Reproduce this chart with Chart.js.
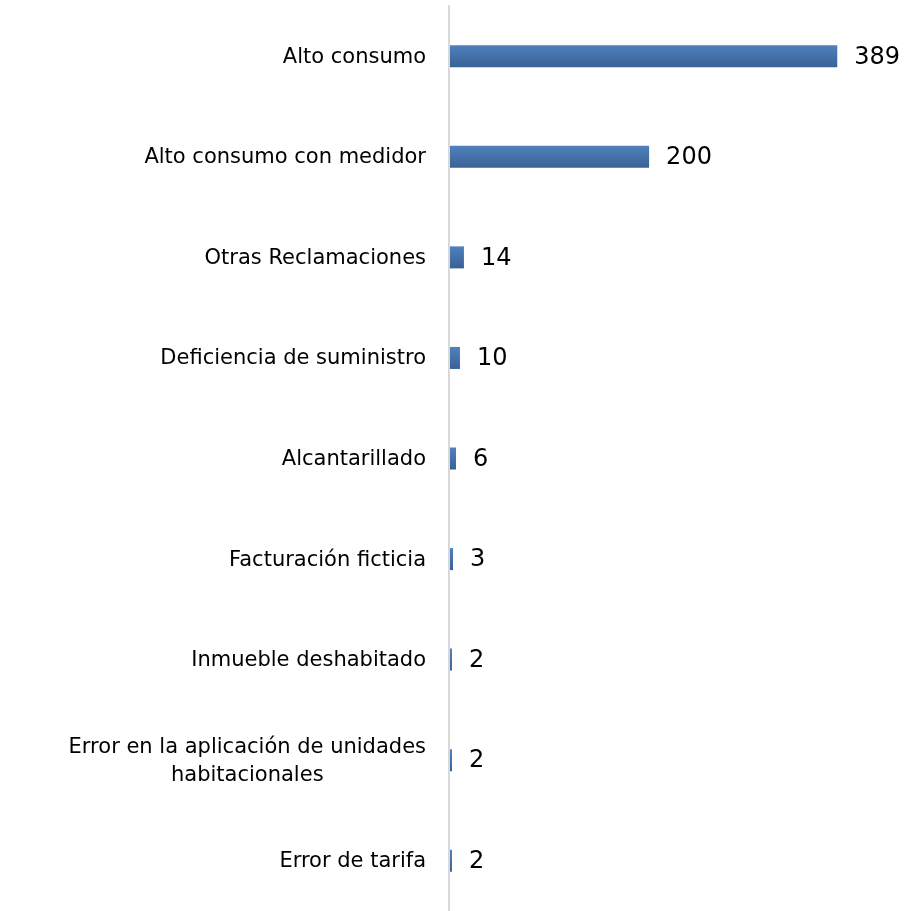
<!DOCTYPE html>
<html>
<head>
<meta charset="utf-8">
<script src="https://cdn.jsdelivr.net/npm/chart.js@4"></script>
<style>
html,body{margin:0;padding:0;background:#fff;}
#wrap{width:920px;height:911px;position:relative;}
</style>
</head>
<body>
<div id="wrap"><canvas id="c" width="920" height="911"></canvas></div>
<script>
const categories = [
  "Alto consumo",
  "Alto consumo con medidor",
  "Otras Reclamaciones",
  "Deficiencia de suministro",
  "Alcantarillado",
  "Facturación ficticia",
  "Inmueble deshabitado",
  ["Error en la aplicación de unidades", "habitacionales"],
  "Error de tarifa"
];
const values = [389, 200, 14, 10, 6, 3, 2, 2, 2];

const LABEL_FONT = '21px "DejaVu Sans"';
const VALUE_FONT = '24px "DejaVu Sans"';

const labelPlugin = {
  id: 'labels',
  afterDraw(chart) {
    const ctx = chart.ctx;
    const y = chart.scales.y;
    const x = chart.scales.x;
    ctx.save();
    ctx.fillStyle = '#000';
    ctx.textBaseline = 'middle';
    ctx.font = LABEL_FONT;
    categories.forEach((lab, i) => {
      const cy = y.getPixelForValue(i);
      const lines = Array.isArray(lab) ? lab : [lab];
      const maxW = Math.max(...lines.map(l => ctx.measureText(l).width));
      const right = x.left - 24;
      const lh = 28;
      lines.forEach((l, j) => {
        const ly = cy + 1 + (j - (lines.length - 1) / 2) * lh;
        ctx.textAlign = 'center';
        ctx.fillText(l, right - maxW / 2, ly);
      });
    });
    ctx.font = VALUE_FONT;
    ctx.textAlign = 'left';
    const meta = chart.getDatasetMeta(0);
    meta.data.forEach((bar, i) => {
      ctx.fillText(String(values[i]), bar.x + 17, bar.y + 1);
    });
    ctx.restore();
  }
};

const axisLine = {
  id: 'axisLine',
  beforeDatasetsDraw(chart) {
    const ctx = chart.ctx;
    const xl = chart.scales.x.left;
    ctx.save();
    ctx.strokeStyle = '#d9d9d9';
    ctx.lineWidth = 2;
    ctx.beginPath();
    ctx.moveTo(xl - 1, 5);
    ctx.lineTo(xl - 1, 911);
    ctx.stroke();
    ctx.restore();
  }
};

new Chart(document.getElementById('c'), {
  type: 'bar',
  data: {
    labels: categories,
    datasets: [{
      data: values,
      backgroundColor: (c) => {
        const chart = c.chart;
        if (!chart.chartArea || c.dataIndex === undefined) return '#4a78b2';
        const cy = chart.scales.y.getPixelForValue(c.dataIndex);
        const g = chart.ctx.createLinearGradient(0, cy - 11, 0, cy + 11);
        g.addColorStop(0, '#4f81bd');
        g.addColorStop(1, '#3a6195');
        return g;
      },
      borderWidth: 0,
      barPercentage: 1,
      categoryPercentage: 0.219
    }]
  },
  options: {
    indexAxis: 'y',
    responsive: false,
    animation: false,
    events: [],
    layout: { padding: { top: 6, bottom: 0, left: 0, right: 22 } },
    plugins: { legend: { display: false }, tooltip: { enabled: false } },
    scales: {
      x: {
        min: 0, max: 450,
        display: false,
        grid: { display: false }
      },
      y: {
        grid: { display: false, drawBorder: false },
        border: { display: false },
        ticks: { display: false },
        afterFit(s) { s.width = 450; }
      }
    }
  },
  plugins: [axisLine, labelPlugin]
});
</script>
</body>
</html>
